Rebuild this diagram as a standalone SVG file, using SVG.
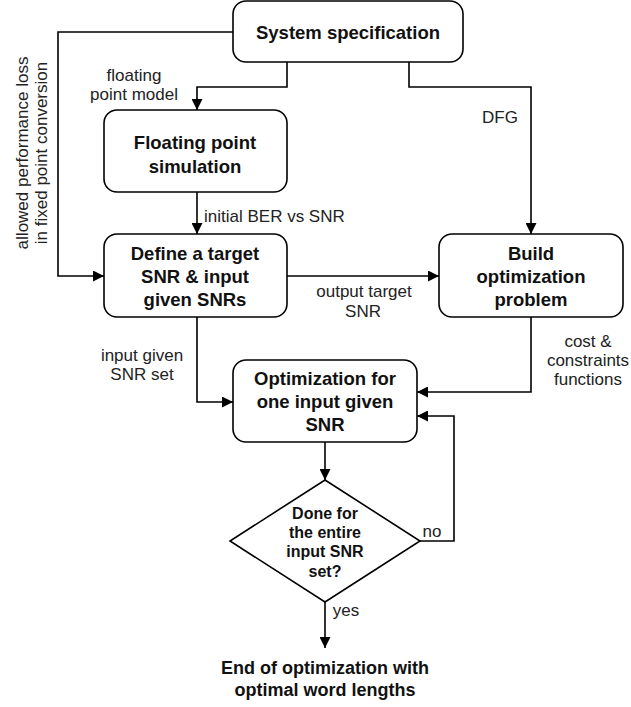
<svg xmlns="http://www.w3.org/2000/svg" width="631" height="707" viewBox="0 0 631 707">
<defs>
<marker id="arr" viewBox="0 0 10 10" refX="10" refY="5" markerWidth="11" markerHeight="11" markerUnits="userSpaceOnUse" orient="auto">
<path d="M0,0 L10,5 L0,10 z" fill="#000"/>
</marker>
<style>
.box{fill:#fff;stroke:#000;stroke-width:1.6}
.b{font-family:"Liberation Sans",Arial,sans-serif;font-weight:bold;font-size:18.5px;fill:#111;text-anchor:middle}
.bs{font-family:"Liberation Sans",Arial,sans-serif;font-weight:bold;font-size:16px;fill:#111;text-anchor:middle}
.l{font-family:"Liberation Sans",Arial,sans-serif;font-size:17px;fill:#222;text-anchor:middle}
.c{fill:none;stroke:#000;stroke-width:1.6;marker-end:url(#arr)}
</style>
</defs>
<rect width="631" height="707" fill="#fff"/>
<g id="connectors">
<path class="c" d="M233,32 H58 V276 H104"/>
<path class="c" d="M287,62 V87 H197 V110"/>
<path class="c" d="M409,62 V87 H531 V234"/>
<path class="c" d="M197,192 V234"/>
<path class="c" d="M287,276 H439"/>
<path class="c" d="M197,317 V402 H233"/>
<path class="c" d="M531,317 V392 H417"/>
<path class="c" d="M325,442 V480"/>
<path class="c" d="M420,541 H454 V416 H417"/>
<path class="c" d="M325,602 V648"/>
<text class="l" x="134" y="81">floating</text>
<text class="l" x="134" y="100">point model</text>
<text class="l" x="204" y="222" style="text-anchor:start">initial BER vs SNR</text>
<text class="l" x="500" y="123">DFG</text>
<text class="l" x="364" y="297">output target</text>
<text class="l" x="363" y="317">SNR</text>
<text class="l" x="142" y="361">input given</text>
<text class="l" x="142" y="380">SNR set</text>
<text class="l" x="588" y="347">cost &amp;</text>
<text class="l" x="588" y="366">constraints</text>
<text class="l" x="588" y="385">functions</text>
<text class="l" x="432" y="537">no</text>
<text class="l" x="346" y="616">yes</text>
<text class="l" transform="translate(28,153) rotate(-90)">allowed  performance loss</text>
<text class="l" transform="translate(47,153) rotate(-90)">in fixed point conversion</text>
</g>
<g id="system">
<rect class="box" x="233" y="1" width="230" height="61" rx="13"/>
<text class="b" x="348" y="39">System specification</text>
</g>
<g id="floating">
<rect class="box" x="104" y="110" width="183" height="82" rx="13"/>
<text class="b" x="195" y="149">Floating point</text>
<text class="b" x="195" y="173">simulation</text>
</g>
<g id="define">
<rect class="box" x="104" y="234" width="183" height="83" rx="13"/>
<text class="b" x="195" y="260">Define a target</text>
<text class="b" x="195" y="283">SNR &amp; input</text>
<text class="b" x="195" y="306">given SNRs</text>
</g>
<g id="build">
<rect class="box" x="439" y="234" width="184" height="83" rx="13"/>
<text class="b" x="531" y="260">Build</text>
<text class="b" x="531" y="283">optimization</text>
<text class="b" x="531" y="306">problem</text>
</g>
<g id="optim">
<rect class="box" x="233" y="360" width="184" height="82" rx="13"/>
<text class="b" x="325" y="385">Optimization for</text>
<text class="b" x="325" y="408">one input given</text>
<text class="b" x="325" y="431">SNR</text>
</g>
<g id="decision">
<polygon class="box" points="325,480 420,541 325,602 230,541"/>
<text class="bs" x="325" y="519">Done for</text>
<text class="bs" x="325" y="538">the entire</text>
<text class="bs" x="325" y="557">input SNR</text>
<text class="bs" x="325" y="577">set?</text>
</g>
<g id="end">
<text class="b" x="325" y="674" style="font-size:18px">End of optimization with</text>
<text class="b" x="325" y="696" style="font-size:18px">optimal word lengths</text>
</g>
</svg>
